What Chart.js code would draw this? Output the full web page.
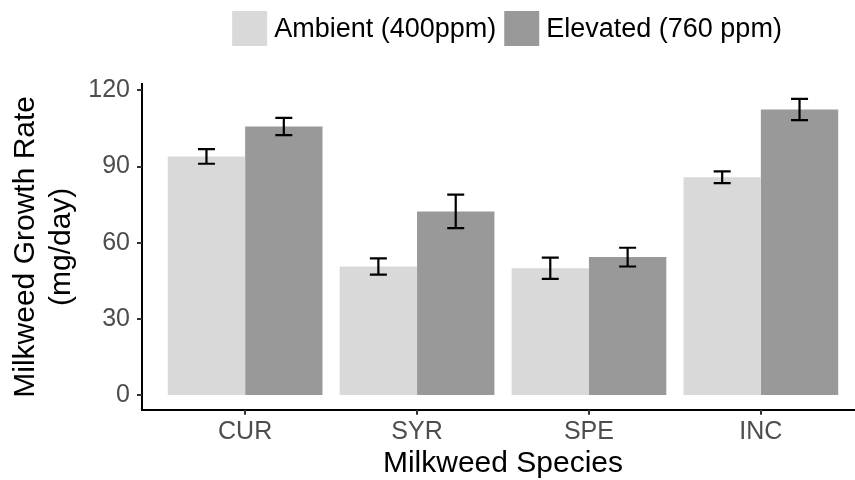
<!DOCTYPE html>
<html><head><meta charset="utf-8">
<script src="https://cdn.jsdelivr.net/npm/chart.js@4.4.1/dist/chart.umd.min.js"></script>
<style>html,body{margin:0;padding:0;background:#fff;overflow:hidden;width:855px;height:480px}canvas{display:block}</style>
</head><body>
<canvas id="c" width="880" height="480"></canvas>
<script>
// ---- data ----
const categories = ["CUR", "SYR", "SPE", "INC"];
const seriesLabels = ["Ambient (400ppm)", "Elevated (760 ppm)"];
const ambient = [94.0, 50.6, 49.9, 85.8];
const ambientErr = [2.9, 3.2, 4.2, 2.3];
const elevated = [105.8, 72.3, 54.3, 112.5];
const elevatedErr = [3.4, 6.6, 3.7, 4.2];
const yTicks = [0, 30, 60, 90, 120];
const xTitle = "Milkweed Species";
const yTitle = ["Milkweed Growth Rate", "(mg/day)"];

const FONT = '"Liberation Sans", Arial, Helvetica, sans-serif';
Chart.defaults.font.family = FONT;

const toPoints = arr => arr.map((v, i) => ({ x: i + 1, y: v }));

const errorBars = {
  id: 'errorBars',
  afterDatasetsDraw(chart) {
    const ctx = chart.ctx, ys = chart.scales.y;
    chart.data.datasets.forEach((ds, di) => {
      const meta = chart.getDatasetMeta(di);
      meta.data.forEach((bar, i) => {
        const v = ds.data[i].y, e = ds.errors[i];
        const yt = ys.getPixelForValue(v + e), yb = ys.getPixelForValue(v - e);
        ctx.save();
        ctx.strokeStyle = '#000'; ctx.lineWidth = 2.2;
        ctx.beginPath();
        ctx.moveTo(bar.x, yt); ctx.lineTo(bar.x, yb);
        ctx.moveTo(bar.x - 8.5, yt); ctx.lineTo(bar.x + 8.5, yt);
        ctx.moveTo(bar.x - 8.5, yb); ctx.lineTo(bar.x + 8.5, yb);
        ctx.stroke();
        ctx.restore();
      });
    });
  }
};

// axis tick marks drawn at the library's own tick positions
const axisTicks = {
  id: 'axisTicks',
  afterDraw(chart) {
    const ctx = chart.ctx, xs = chart.scales.x, ys = chart.scales.y, ca = chart.chartArea;
    ctx.save();
    ctx.strokeStyle = '#333'; ctx.lineWidth = 2;
    ctx.beginPath();
    xs.ticks.forEach((t, i) => {
      const px = Math.round(xs.getPixelForTick(i));
      ctx.moveTo(px, ca.bottom); ctx.lineTo(px, ca.bottom + 5);
    });
    ys.ticks.forEach((t, i) => {
      const py = Math.round(ys.getPixelForTick(i));
      ctx.moveTo(ca.left, py); ctx.lineTo(ca.left - 5, py);
    });
    ctx.stroke();
    ctx.restore();
  }
};

const topLegend = {
  id: 'topLegend',
  afterDraw(chart) {
    const ctx = chart.ctx;
    ctx.save();
    ctx.font = '27px ' + FONT;
    ctx.textBaseline = 'middle';
    ctx.textAlign = 'left';
    const boxW = 35, boxH = 35, gapText = 7, gapItem = 8;
    const ds = chart.data.datasets;
    const widths = ds.map(d => ctx.measureText(d.label).width);
    const total = widths.reduce((a, w) => a + boxW + gapText + w, 0) + gapItem * (ds.length - 1);
    const ca = chart.chartArea;
    let x = (ca.left + ca.right) / 2 + 4 - total / 2;
    const yMid = 28.5;
    ds.forEach((d, i) => {
      ctx.fillStyle = d.backgroundColor;
      ctx.fillRect(x, yMid - boxH / 2, boxW, boxH);
      x += boxW + gapText;
      ctx.fillStyle = '#000';
      ctx.fillText(d.label, x, yMid + 1);
      x += widths[i] + gapItem;
    });
    ctx.restore();
  }
};

new Chart(document.getElementById('c'), {
  type: 'bar',
  data: {
    datasets: [
      { label: seriesLabels[0], data: toPoints(ambient), errors: ambientErr, backgroundColor: '#d9d9d9', borderWidth: 0 },
      { label: seriesLabels[1], data: toPoints(elevated), errors: elevatedErr, backgroundColor: '#999999', borderWidth: 0 }
    ]
  },
  options: {
    responsive: false,
    animation: false,
    devicePixelRatio: 1,
    layout: { padding: { top: 84, right: 16, left: 0, bottom: 0 } },
    datasets: { bar: { categoryPercentage: 0.9, barPercentage: 1.0 } },
    plugins: { legend: { display: false }, tooltip: { enabled: false } },
    scales: {
      x: {
        type: 'linear',
        offset: false,
        min: 0.4, max: 4.6,
        afterBuildTicks: s => { s.ticks = categories.map((c, i) => ({ value: i + 1 })); },
        afterFit: s => { s.height = 70.3; },
        ticks: { callback: v => categories[Math.round(v) - 1], color: '#4d4d4d', font: { size: 25 }, padding: 7, maxRotation: 0, autoSkip: false },
        grid: { display: false, drawTicks: false },
        border: { display: true, color: '#000', width: 2 },
        title: { display: true, text: xTitle, color: '#000', font: { size: 30, lineHeight: 1.1 }, padding: { top: 0, bottom: 0 } }
      },
      y: {
        min: -5.84, max: 122.54,
        afterBuildTicks: s => { s.ticks = yTicks.map(v => ({ value: v })); },
        afterFit: s => { s.width = 142; },
        ticks: { color: '#4d4d4d', font: { size: 25 }, padding: 12 },
        grid: { display: false, drawTicks: false },
        border: { display: true, color: '#000', width: 2 },
        title: { display: true, text: yTitle, color: '#000', font: { size: 30, lineHeight: 1.2 }, padding: { top: 7.5, bottom: 0 } }
      }
    }
  },
  plugins: [errorBars, axisTicks, topLegend]
});
</script>
</body></html>
